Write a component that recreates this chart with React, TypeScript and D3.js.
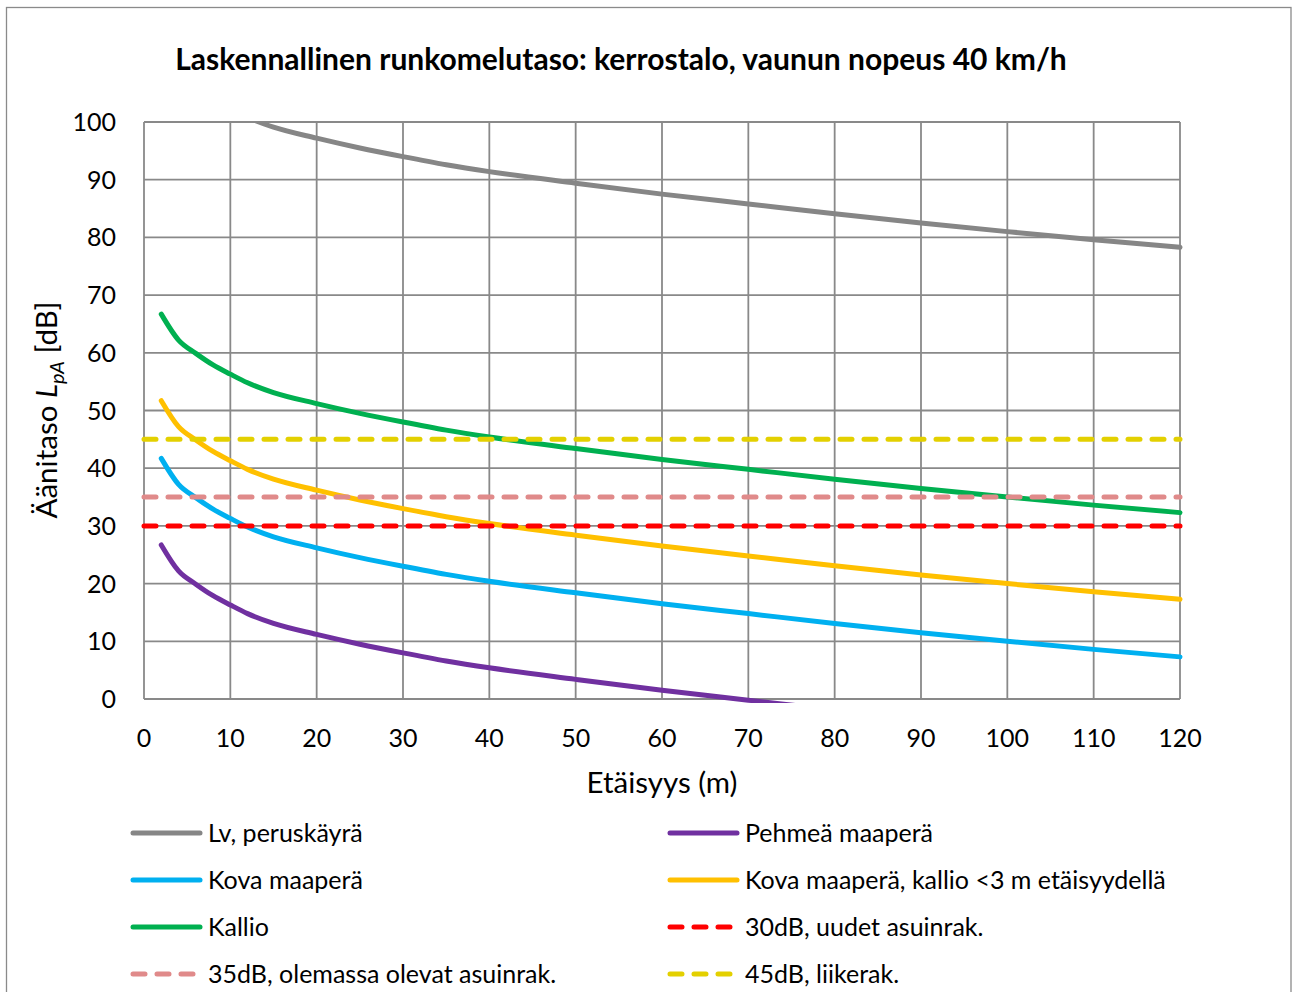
import * as React from 'react';
import * as d3 from 'd3';

// distances (m)
const distances = [2, 4, 6, 8, 10, 12, 15, 20, 25, 30, 35, 40, 50, 60, 70, 80, 90, 100, 110, 120];

// levels, dB
const lvPeruskayra = [112.7, 108.2, 105.9, 103.9, 102.3, 100.8, 99.1, 97.2, 95.5, 94.0, 92.6, 91.4, 89.4, 87.5, 85.8, 84.1, 82.5, 81.0, 79.6, 78.3];
const pehmeaMaapera = [26.7, 22.2, 19.9, 17.9, 16.3, 14.8, 13.1, 11.2, 9.5, 8.0, 6.6, 5.4, 3.4, 1.5, -0.2, -1.9, -3.5, -5.0, -6.4, -7.7];
const kovaMaapera = [41.7, 37.2, 34.9, 32.9, 31.3, 29.8, 28.1, 26.2, 24.5, 23.0, 21.6, 20.4, 18.4, 16.5, 14.8, 13.1, 11.5, 10.0, 8.6, 7.3];
const kovaKallio = [51.7, 47.2, 44.9, 42.9, 41.3, 39.8, 38.1, 36.2, 34.5, 33.0, 31.6, 30.4, 28.4, 26.5, 24.8, 23.1, 21.5, 20.0, 18.6, 17.3];
const kallio = [66.7, 62.2, 59.9, 57.9, 56.3, 54.8, 53.1, 51.2, 49.5, 48.0, 46.6, 45.4, 43.4, 41.5, 39.8, 38.1, 36.5, 35.0, 33.6, 32.3];

// limit lines
const limitRange = [0, 120];
const limit30 = [30, 30];
const limit35 = [35, 35];
const limit45 = [45, 45];

const xTicks = [0, 10, 20, 30, 40, 50, 60, 70, 80, 90, 100, 110, 120];
const yTicks = [0, 10, 20, 30, 40, 50, 60, 70, 80, 90, 100];

const series = [
  {name: 'Lv, peruskäyrä', xs: distances, ys: lvPeruskayra, color: '#868686', dashed: false},
  {name: 'Pehmeä maaperä', xs: distances, ys: pehmeaMaapera, color: '#7030A0', dashed: false},
  {name: 'Kova maaperä', xs: distances, ys: kovaMaapera, color: '#00B0F0', dashed: false},
  {name: 'Kova maaperä, kallio <3 m etäisyydellä', xs: distances, ys: kovaKallio, color: '#FFC000', dashed: false},
  {name: 'Kallio', xs: distances, ys: kallio, color: '#00B050', dashed: false},
  {name: '30dB, uudet asuinrak.', xs: limitRange, ys: limit30, color: '#FF0000', dashed: true},
  {name: '35dB, olemassa olevat asuinrak.', xs: limitRange, ys: limit35, color: '#E08A8A', dashed: true},
  {name: '45dB, liikerak.', xs: limitRange, ys: limit45, color: '#E3D000', dashed: true},
];

const FONT = 'Lato, "Open Sans", sans-serif';
const GRID = '#898989';

const App = () => {
  const width = 1292;
  const height = 992;
  const left = 144, right = 1180, top = 122, bottom = 699;

  const x = d3.scaleLinear().domain([0, 120]).range([left, right]);
  const y = d3.scaleLinear().domain([0, 100]).range([bottom, top]);

  const line = d3.line<[number, number]>()
    .x(d => x(d[0]))
    .y(d => y(d[1]))
    .curve(d3.curveMonotoneX);

  return (
    <svg width={width} height={height} style={{position: 'absolute', left: 0, top: 0, background: '#fff'}}
         fontFamily={FONT}>
      <defs>
        <clipPath id="plotclip">
          <rect x={left - 3} y={top} width={right - left + 6} height={bottom - top + 4} />
        </clipPath>
      </defs>
      <rect x={6.5} y={7.5} width={1284.5} height={1000} fill="#fff" stroke="#8a8a8a" strokeWidth={1.3} />

      <text x={621} y={70} textAnchor="middle" fontWeight="bold" fontSize={30} fill="#000">
        Laskennallinen runkomelutaso: kerrostalo, vaunun nopeus 40 km/h
      </text>

      {/* grid */}
      {yTicks.map(t => (
        <line key={'gy' + t} x1={left} x2={right} y1={y(t)} y2={y(t)} stroke={GRID} strokeWidth={1.8} />
      ))}
      {xTicks.map(t => (
        <line key={'gx' + t} x1={x(t)} x2={x(t)} y1={top} y2={bottom} stroke={GRID} strokeWidth={1.8} />
      ))}

      {/* tick labels */}
      {yTicks.map(t => (
        <text key={'ly' + t} x={116} y={y(t) + 9} textAnchor="end" fontSize={25} fill="#000">{t}</text>
      ))}
      {xTicks.map(t => (
        <text key={'lx' + t} x={x(t)} y={747} textAnchor="middle" fontSize={25} fill="#000">{t}</text>
      ))}

      <text x={662} y={793} textAnchor="middle" fontSize={29.5} fill="#000">Etäisyys (m)</text>
      <text transform={`translate(57,${410}) rotate(-90)`} textAnchor="middle" fontSize={29.5} fill="#000">
        Äänitaso <tspan fontStyle="italic">L</tspan>
        <tspan fontStyle="italic" fontSize={20} dy={7}>pA</tspan>
        <tspan dy={-7}> [dB]</tspan>
      </text>

      {/* series */}
      <g clipPath="url(#plotclip)">
        {series.map(s => (
          <path key={s.name}
                d={line(s.xs.map((v, i) => [v, s.ys[i]] as [number, number])) || ''}
                fill="none" stroke={s.color} strokeWidth={5}
                strokeLinecap="round"
                strokeDasharray={s.dashed ? '12 12' : undefined} />
        ))}
      </g>

      {/* legend */}
      {series.map((s, i) => {
        const col = i % 2;
        const row = Math.floor(i / 2);
        const lx = col === 0 ? 133 : 670;
        const ly = 833 + row * 47;
        return (
          <g key={'lg' + s.name}>
            <line x1={lx} x2={lx + 67} y1={ly} y2={ly} stroke={s.color} strokeWidth={5}
                  strokeLinecap="round" strokeDasharray={s.dashed ? '12 12' : undefined} />
            <text x={lx + 75} y={ly + 9} fontSize={25} fill="#000">{s.name}</text>
          </g>
        );
      })}
    </svg>
  );
};

export default App;
